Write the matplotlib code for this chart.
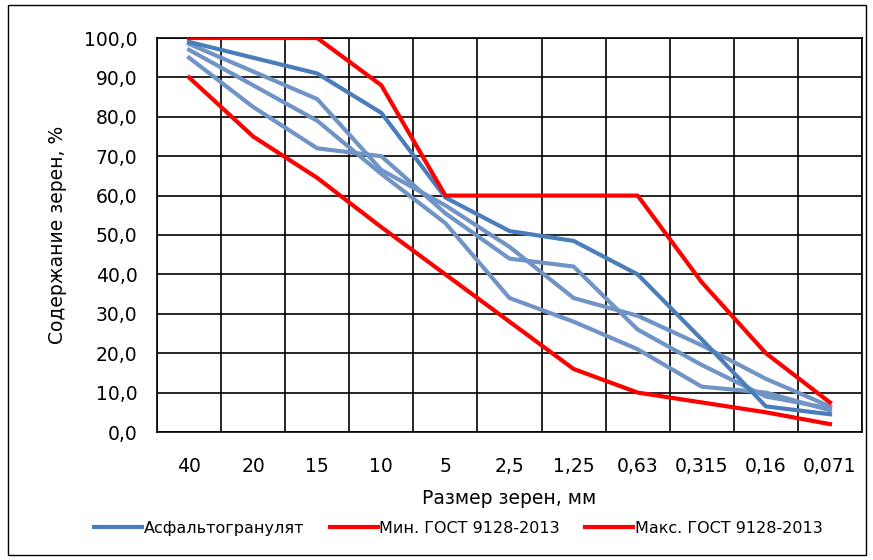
import matplotlib
matplotlib.use("Agg")
import matplotlib.pyplot as plt
from matplotlib.patches import Rectangle
from matplotlib.ticker import FuncFormatter, MultipleLocator

plt.rcParams['font.family'] = ['DejaVu Sans']

# размеры сит, мм
sizes = ['40', '20', '15', '10', '5', '2,5', '1,25', '0,63', '0,315', '0,16', '0,071']

# полные проходы, %
gost_max = [100, 100, 100, 88, 60, 60, 60, 60, 38, 20, 7.5]
gost_min = [90, 75, 64.5, 52, 40, 28, 16, 10, 7.5, 5, 2]

granulate_main = [99, 95, 91, 81, 59.5, 51, 48.5, 40, 23.5, 6.5, 4.5]
granulate_1 = [98.5, 91.5, 84.5, 66.5, 57.5, 47, 34, 29.5, 22, 13.5, 6.5]
granulate_2 = [97, 88, 79, 65.5, 53, 34, 28, 21, 11.5, 10, 5.5]
granulate_3 = [95, 82.5, 72, 70, 55.5, 44, 42, 26, 17, 9, 6]

x = list(range(len(sizes)))

fig = plt.figure(figsize=(8.73, 5.6), dpi=100)
ax = fig.add_axes([157 / 873, 1 - 432 / 560, 705 / 873, 394 / 560])

light = '#7094C5'
dark = '#4A7EBB'
lw = 3.0

for g in (granulate_1, granulate_2, granulate_3):
    ax.plot(x, g, color=light, lw=lw, zorder=3)
ax.plot(x, granulate_main, color=dark, lw=lw, label='Асфальтогранулят', zorder=4)
ax.plot(x, gost_min, color='#FF0000', lw=lw, label='Мин. ГОСТ 9128-2013', zorder=5)
ax.plot(x, gost_max, color='#FF0000', lw=lw, label='Макс. ГОСТ 9128-2013', zorder=5)

ax.set_xlim(-0.5, len(sizes) - 0.5)
ax.set_ylim(0, 100)
ax.set_xticks(x)
ax.set_xticklabels(sizes)
ax.set_xticks([i - 0.5 for i in range(len(sizes) + 1)], minor=True)
ax.yaxis.set_major_locator(MultipleLocator(10))
ax.yaxis.set_major_formatter(FuncFormatter(lambda v, p: f'{v:.1f}'.replace('.', ',')))

ax.grid(True, axis='y', which='major', color='black', lw=1.2)
ax.grid(True, axis='x', which='minor', color='black', lw=1.2)
ax.tick_params(axis='both', which='both', length=0, labelsize=13.5)
ax.tick_params(axis='x', pad=18)
ax.tick_params(axis='y', pad=14)
for s in ax.spines.values():
    s.set_color('black')
    s.set_linewidth(1.2)
ax.set_axisbelow(True)

ax.set_xlabel('Размер зерен, мм', fontsize=13.5, labelpad=9)
ax.set_ylabel('Содержание зерен, %', fontsize=13.5, labelpad=12)

fig.legend(loc='center', bbox_to_anchor=(0.525, 0.057), ncol=3, frameon=False,
           fontsize=11.5, handlelength=3.0, handletextpad=0.1, columnspacing=1.6)

fig.patches.append(Rectangle((8 / 873, 5 / 560), 858 / 873, 550 / 560,
                             transform=fig.transFigure, fill=False,
                             edgecolor='black', lw=1))

fig.savefig('out.png', dpi=100)
